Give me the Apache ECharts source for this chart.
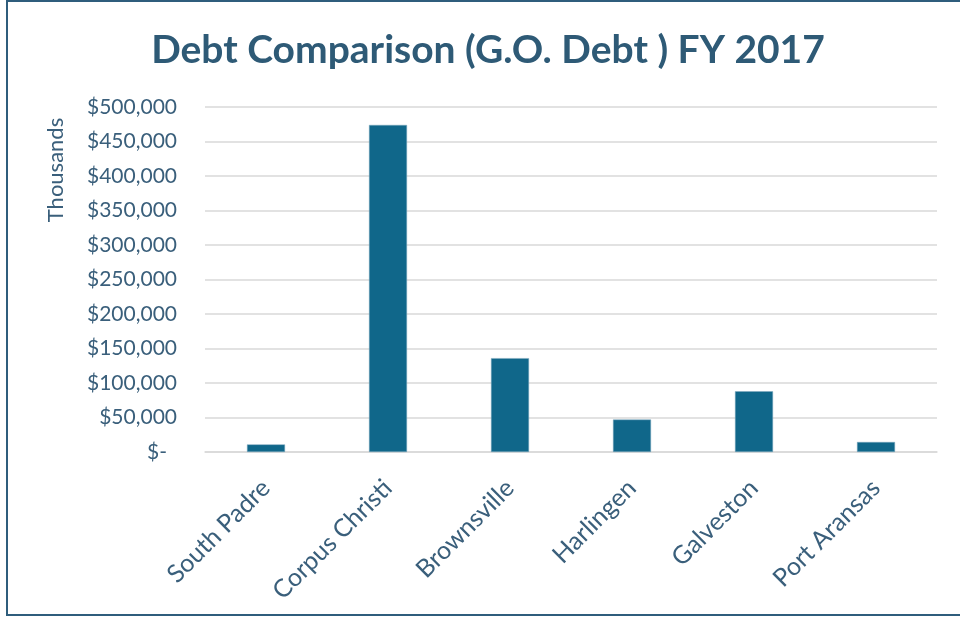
<!DOCTYPE html>
<html>
<head>
<meta charset="utf-8">
<script src="https://cdn.jsdelivr.net/npm/echarts@6/dist/echarts.min.js"></script>
<style>html,body{margin:0;padding:0;background:#fff;}#c{width:960px;height:617px;}</style>
</head>
<body>
<div id="c"></div>
<script>
const titleText = 'Debt Comparison (G.O. Debt ) FY 2017';
const axisTitle = 'Thousands';
const categories = ['South Padre', 'Corpus Christi', 'Brownsville', 'Harlingen', 'Galveston', 'Port Aransas'];
const debtValues = [11000, 474000, 136000, 47000, 88000, 14500];
const yMin = 0, yMax = 500000, yStep = 50000;

const FONT = 'Lato';
const TEXT = '#3a5f7b';
const chart = echarts.init(document.getElementById('c'), null, {renderer: 'canvas'});
chart.setOption({
  animation: false,
  backgroundColor: '#ffffff',
  title: {
    text: titleText, left: 483, textAlign: 'center', top: 26,
    textStyle: {fontFamily: FONT, fontWeight: 'bold', fontSize: 39, color: '#2e5a76'}
  },
  graphic: [
    {type: 'rect', shape: {x: 7, y: 1, width: 980, height: 614}, style: {fill: 'none', stroke: '#2f5d7c', lineWidth: 2}, silent: true},
    {type: 'text', x: 56, y: 170, rotation: Math.PI / 2,
     style: {text: axisTitle, fontFamily: FONT, fontSize: 22, fill: TEXT, align: 'center', verticalAlign: 'middle'}}
  ],
  grid: {left: 205, right: 23, top: 107, bottom: 165, containLabel: false},
  xAxis: {
    type: 'category', data: categories,
    axisLine: {lineStyle: {color: '#d9d9d9', width: 1.5}},
    axisTick: {show: false},
    axisLabel: {rotate: 45, margin: 32, fontFamily: FONT, fontSize: 25, color: TEXT, interval: 0}
  },
  yAxis: {
    type: 'value', min: yMin, max: yMax, interval: yStep,
    axisLine: {show: false}, axisTick: {show: false},
    splitLine: {lineStyle: {color: '#d9d9d9', width: 1.5}},
    axisLabel: {
      margin: 28, fontFamily: FONT, fontSize: 21, color: TEXT,
      formatter: function (v) {
        if (v === 0) return '{z|$-}';
        return '$' + v.toLocaleString('en-US');
      },
      rich: {z: {fontFamily: FONT, fontSize: 21, color: TEXT, padding: [0, 10, 0, 0]}}
    }
  },
  series: [{
    type: 'bar', data: debtValues, barWidth: 38,
    itemStyle: {color: '#10678a', borderColor: '#7fa9bf', borderWidth: 0.5}
  }]
});
</script>
</body>
</html>
